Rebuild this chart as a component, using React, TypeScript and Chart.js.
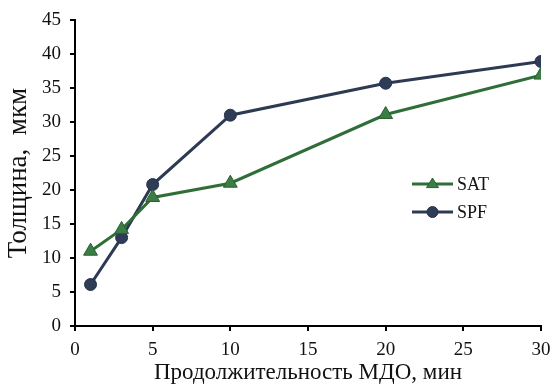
import React, { useEffect, useRef } from "react";
import { Chart, registerables } from "chart.js";

Chart.register(...registerables);

// Treatment duration, minutes
const minutesSAT = [1, 3, 5, 10, 20, 30];
const minutesSPF = [1, 3, 5, 10, 20, 30];
// Coating thickness, µm
const thicknessSAT = [11, 14.2, 18.9, 21, 31.1, 36.9];
const thicknessSPF = [6.1, 13, 20.8, 31, 35.7, 38.9];

const xTicks = [0, 5, 10, 15, 20, 25, 30];
const yTicks = [0, 5, 10, 15, 20, 25, 30, 35, 40, 45];

const FONT = "'Liberation Serif', 'Times New Roman', serif";

const greenLine = "#2f6e38";
const greenFill = "#3b7e45";
const navyLine = "#2c3a52";
const navyFill = "#2e3c55";

// Legend drawn inside the plot area, right of centre
const insideLegend = {
  id: "insideLegend",
  afterDraw(chart: any) {
    const { ctx, chartArea } = chart;
    const x0 = chartArea.left + 337;
    const y0 = chartArea.top + 164;
    const rowGap = 28;
    ctx.save();
    chart.data.datasets.forEach((ds: any, i: number) => {
      const y = y0 + i * rowGap;
      ctx.strokeStyle = ds.borderColor;
      ctx.lineWidth = 3;
      ctx.beginPath();
      ctx.moveTo(x0, y);
      ctx.lineTo(x0 + 41, y);
      ctx.stroke();
      ctx.fillStyle = ds.pointBackgroundColor;
      ctx.strokeStyle = ds.pointBorderColor;
      ctx.lineWidth = 1;
      const cx = x0 + 20.5;
      ctx.beginPath();
      if (ds.pointStyle === "triangle") {
        const r = 6;
        ctx.moveTo(cx, y - r);
        ctx.lineTo(cx + r, y + r * 0.6);
        ctx.lineTo(cx - r, y + r * 0.6);
        ctx.closePath();
      } else {
        ctx.arc(cx, y, 5.5, 0, Math.PI * 2);
      }
      ctx.fill();
      ctx.stroke();
      ctx.fillStyle = "#111";
      ctx.font = `18px ${FONT}`;
      ctx.textBaseline = "middle";
      ctx.textAlign = "left";
      ctx.fillText(ds.label, x0 + 45, y + 1);
    });
    ctx.restore();
  },
};

export default function App() {
  const canvasRef = useRef<HTMLCanvasElement | null>(null);

  useEffect(() => {
    document.body.style.margin = "0";
    const canvas = canvasRef.current;
    if (!canvas) return;
    const chart = new Chart(canvas, {
      type: "line",
      data: {
        datasets: [
          {
            label: "SAT",
            data: minutesSAT.map((m, i) => ({ x: m, y: thicknessSAT[i] })),
            borderColor: greenLine,
            backgroundColor: greenFill,
            pointBackgroundColor: greenFill,
            pointBorderColor: "#2a5e31",
            pointStyle: "triangle",
            pointRadius: 8,
            pointBorderWidth: 1,
            borderWidth: 3,
            tension: 0,
          },
          {
            label: "SPF",
            data: minutesSPF.map((m, i) => ({ x: m, y: thicknessSPF[i] })),
            borderColor: navyLine,
            backgroundColor: navyFill,
            pointBackgroundColor: navyFill,
            pointBorderColor: "#25324a",
            pointStyle: "circle",
            pointRadius: 6,
            pointBorderWidth: 1,
            borderWidth: 3,
            tension: 0,
          },
        ],
      },
      options: {
        animation: false,
        responsive: false,
        devicePixelRatio: 1,
        layout: { padding: { left: 0, right: 11, top: 20, bottom: 0 } },
        plugins: {
          legend: { display: false },
          tooltip: { enabled: false },
        },
        scales: {
          x: {
            type: "linear",
            min: 0,
            max: 30,
            afterBuildTicks: (scale: any) => {
              scale.ticks = xTicks.map((v) => ({ value: v }));
            },
            afterFit: (scale: any) => {
              scale.height = 61;
              scale.paddingLeft = 0;
              scale.paddingRight = 0;
            },
            grid: {
              drawOnChartArea: false,
              drawTicks: true,
              tickLength: 5,
              color: "#000",
              lineWidth: 2,
            },
            border: { display: true, color: "#000", width: 2 },
            ticks: {
              color: "#111",
              padding: 8,
              maxRotation: 0,
              font: { family: FONT, size: 19 },
            },
            title: {
              display: true,
              text: "Продолжительность МДО, мин",
              color: "#111",
              font: { family: FONT, size: 23 },
              padding: { top: 0, bottom: 0 },
            },
          },
          y: {
            type: "linear",
            min: 0,
            max: 45,
            afterBuildTicks: (scale: any) => {
              scale.ticks = yTicks.map((v) => ({ value: v }));
            },
            afterFit: (scale: any) => {
              scale.width = 75;
              scale.paddingTop = 0;
              scale.paddingBottom = 0;
            },
            grid: {
              drawOnChartArea: false,
              drawTicks: true,
              tickLength: 5,
              color: "#000",
              lineWidth: 2,
            },
            border: { display: true, color: "#000", width: 2 },
            ticks: {
              color: "#111",
              padding: 9,
              font: { family: FONT, size: 19 },
            },
            title: {
              display: true,
              text: "Толщина,  мкм",
              color: "#111",
              font: { family: FONT, size: 27 },
              padding: { top: 3, bottom: 0 },
            },
          },
        },
      },
      plugins: [insideLegend],
    });
    return () => chart.destroy();
  }, []);

  return (
    <div style={{ position: "fixed", left: 0, top: 0, width: 552, height: 387, background: "#fff" }}>
      <canvas ref={canvasRef} width={552} height={387} style={{ display: "block" }} />
    </div>
  );
}
